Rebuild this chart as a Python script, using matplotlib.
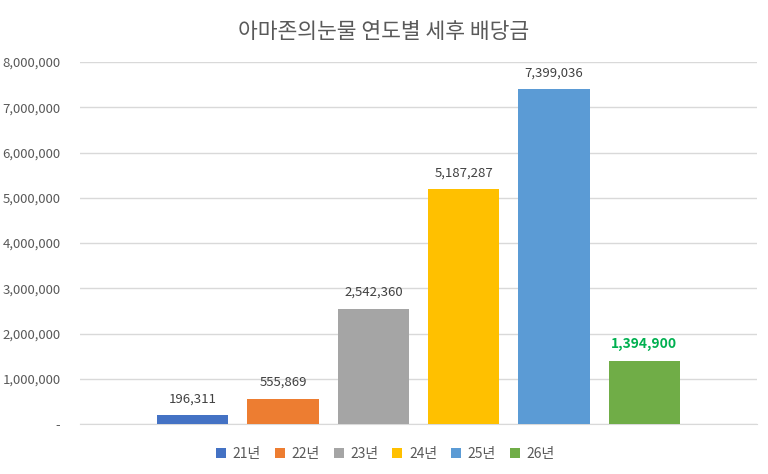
import matplotlib.pyplot as plt
from matplotlib.ticker import FuncFormatter
from matplotlib.patches import Patch

plt.rcParams['font.family'] = ['Noto Sans CJK KR', 'DejaVu Sans']

years = ['21년', '22년', '23년', '24년', '25년', '26년']
dividends = [196311, 555869, 2542360, 5187287, 7399036, 1394900]
colors = ['#4472C4', '#ED7D31', '#A5A5A5', '#FFC000', '#5B9BD5', '#70AD47']

fig = plt.figure(figsize=(7.68, 4.74), dpi=100)
ax = fig.add_axes([0.104, 0.1055, 0.882, 0.7635])

xs = list(range(len(years)))
bars = ax.bar(xs, dividends, width=0.79, color=colors, zorder=3)

# 값 라벨
for i, (x, v) in enumerate(zip(xs, dividends)):
    if i == len(years) - 1:
        ax.text(x, v + 220000, f'{v:,}', ha='center', va='bottom',
                fontsize=10, color='#00B050', fontweight='bold')
    else:
        ax.text(x, v + 220000, f'{v:,}', ha='center', va='bottom',
                fontsize=9.5, color='#404040')

ax.set_xlim(-1.25, 6.25)
ax.set_ylim(0, 8000000)
ax.set_yticks(range(0, 8000001, 1000000))
ax.yaxis.set_major_formatter(FuncFormatter(lambda v, p: '-' if v == 0 else f'{int(v):,}'))
ax.set_xticks([])
ax.tick_params(axis='y', length=0, labelsize=9.5, labelcolor='#595959', pad=14)
ax.grid(axis='y', color='#D9D9D9', linewidth=1, zorder=0)
for s in ['top', 'right', 'left']:
    ax.spines[s].set_visible(False)
ax.spines['bottom'].set_color('#D9D9D9')

fig.text(0.5, 0.932, '아마존의눈물 연도별 세후 배당금', ha='center', va='center',
         fontsize=15.5, color='#595959')

handles = [Patch(facecolor=c, label=y) for c, y in zip(colors, years)]
fig.legend(handles=handles, loc='center', bbox_to_anchor=(0.502, 0.043), ncol=6,
           frameon=False, fontsize=10, handlelength=0.7, handleheight=0.7,
           handletextpad=0.5, columnspacing=1.0, labelcolor='#595959')

fig.savefig('out.png', dpi=100)
